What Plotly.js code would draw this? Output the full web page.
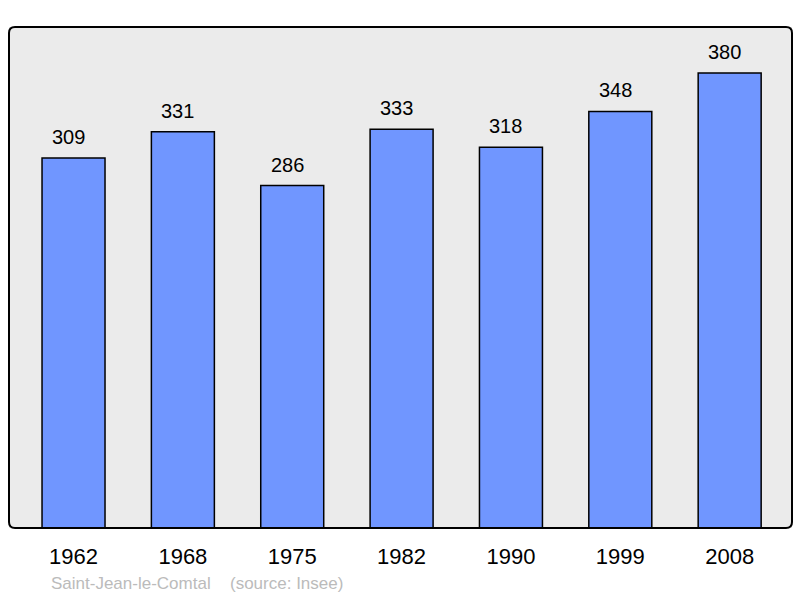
<!DOCTYPE html>
<html><head><meta charset="utf-8">
<script src="https://cdn.plot.ly/plotly-3.0.1.min.js"></script>
<style>html,body{margin:0;padding:0;background:#fff;}</style>
</head><body>
<div id="chart" style="width:800px;height:598px;"></div>
<script>
const years = ["1962","1968","1975","1982","1990","1999","2008"];
const population = [309, 331, 286, 333, 318, 348, 380];
const commune = "Saint-Jean-le-Comtal";
const source = "(source: Insee)";

const W = 783, H = 501, r = 6;
const rx = r / W, ry = r / H;
const border = `M ${rx} 1 L ${1-rx} 1 Q 1 1 1 ${1-ry} L 1 ${ry} Q 1 0 ${1-rx} 0 L ${rx} 0 Q 0 0 0 ${ry} L 0 ${1-ry} Q 0 1 ${rx} 1 Z`;
const FONT = 'Liberation Sans, Arial, sans-serif';

const trace = {
  type: 'bar', x: years.map((y,i)=>i), y: population,
  width: 0.576,
  marker: {color: '#7096ff', line: {color: '#000', width: 1.5}},
  hoverinfo: 'none'
};
const annotations = population.map((v,i)=>({
  x: i, y: v, xref: 'x', yref: 'y', text: String(v), showarrow: false,
  yanchor: 'middle', yshift: 21, xshift: -5, font: {size: 20, color: '#000', family: FONT}
}));
annotations.push({xref:'paper', yref:'paper', x: 40/W, y: -55/H, xanchor:'left', yanchor:'middle',
  text: commune, showarrow:false, font:{size:17, color:'#bbbbbb', family: FONT}});
annotations.push({xref:'paper', yref:'paper', x: 219/W, y: -55/H, xanchor:'left', yanchor:'middle',
  text: source, showarrow:false, font:{size:17, color:'#bbbbbb', family: FONT}});

const layout = {
  width: 800, height: 598,
  margin: {l: 9, r: 8, t: 27, b: 70, pad: 0},
  paper_bgcolor: '#fff', plot_bgcolor: '#ebebeb',
  font: {family: FONT, color: '#000'},
  showlegend: false,
  xaxis: {range: [-0.59, 6.57], tickvals: years.map((y,i)=>i), ticktext: years, ticks: '',
    showgrid: false, zeroline: false, showline: false, tickfont: {size: 22, color: '#000'}, ticklabelstandoff: 13, fixedrange: true},
  yaxis: {range: [0, 418.5], showgrid: false, zeroline: false, showticklabels: false, showline: false, fixedrange: true},
  shapes: [{type: 'path', xref: 'paper', yref: 'paper', path: border, line: {color: '#000', width: 2}}],
  annotations: annotations,
  bargap: 0
};
Plotly.newPlot('chart', [trace], layout, {displayModeBar: false, staticPlot: true});
</script>
</body></html>
